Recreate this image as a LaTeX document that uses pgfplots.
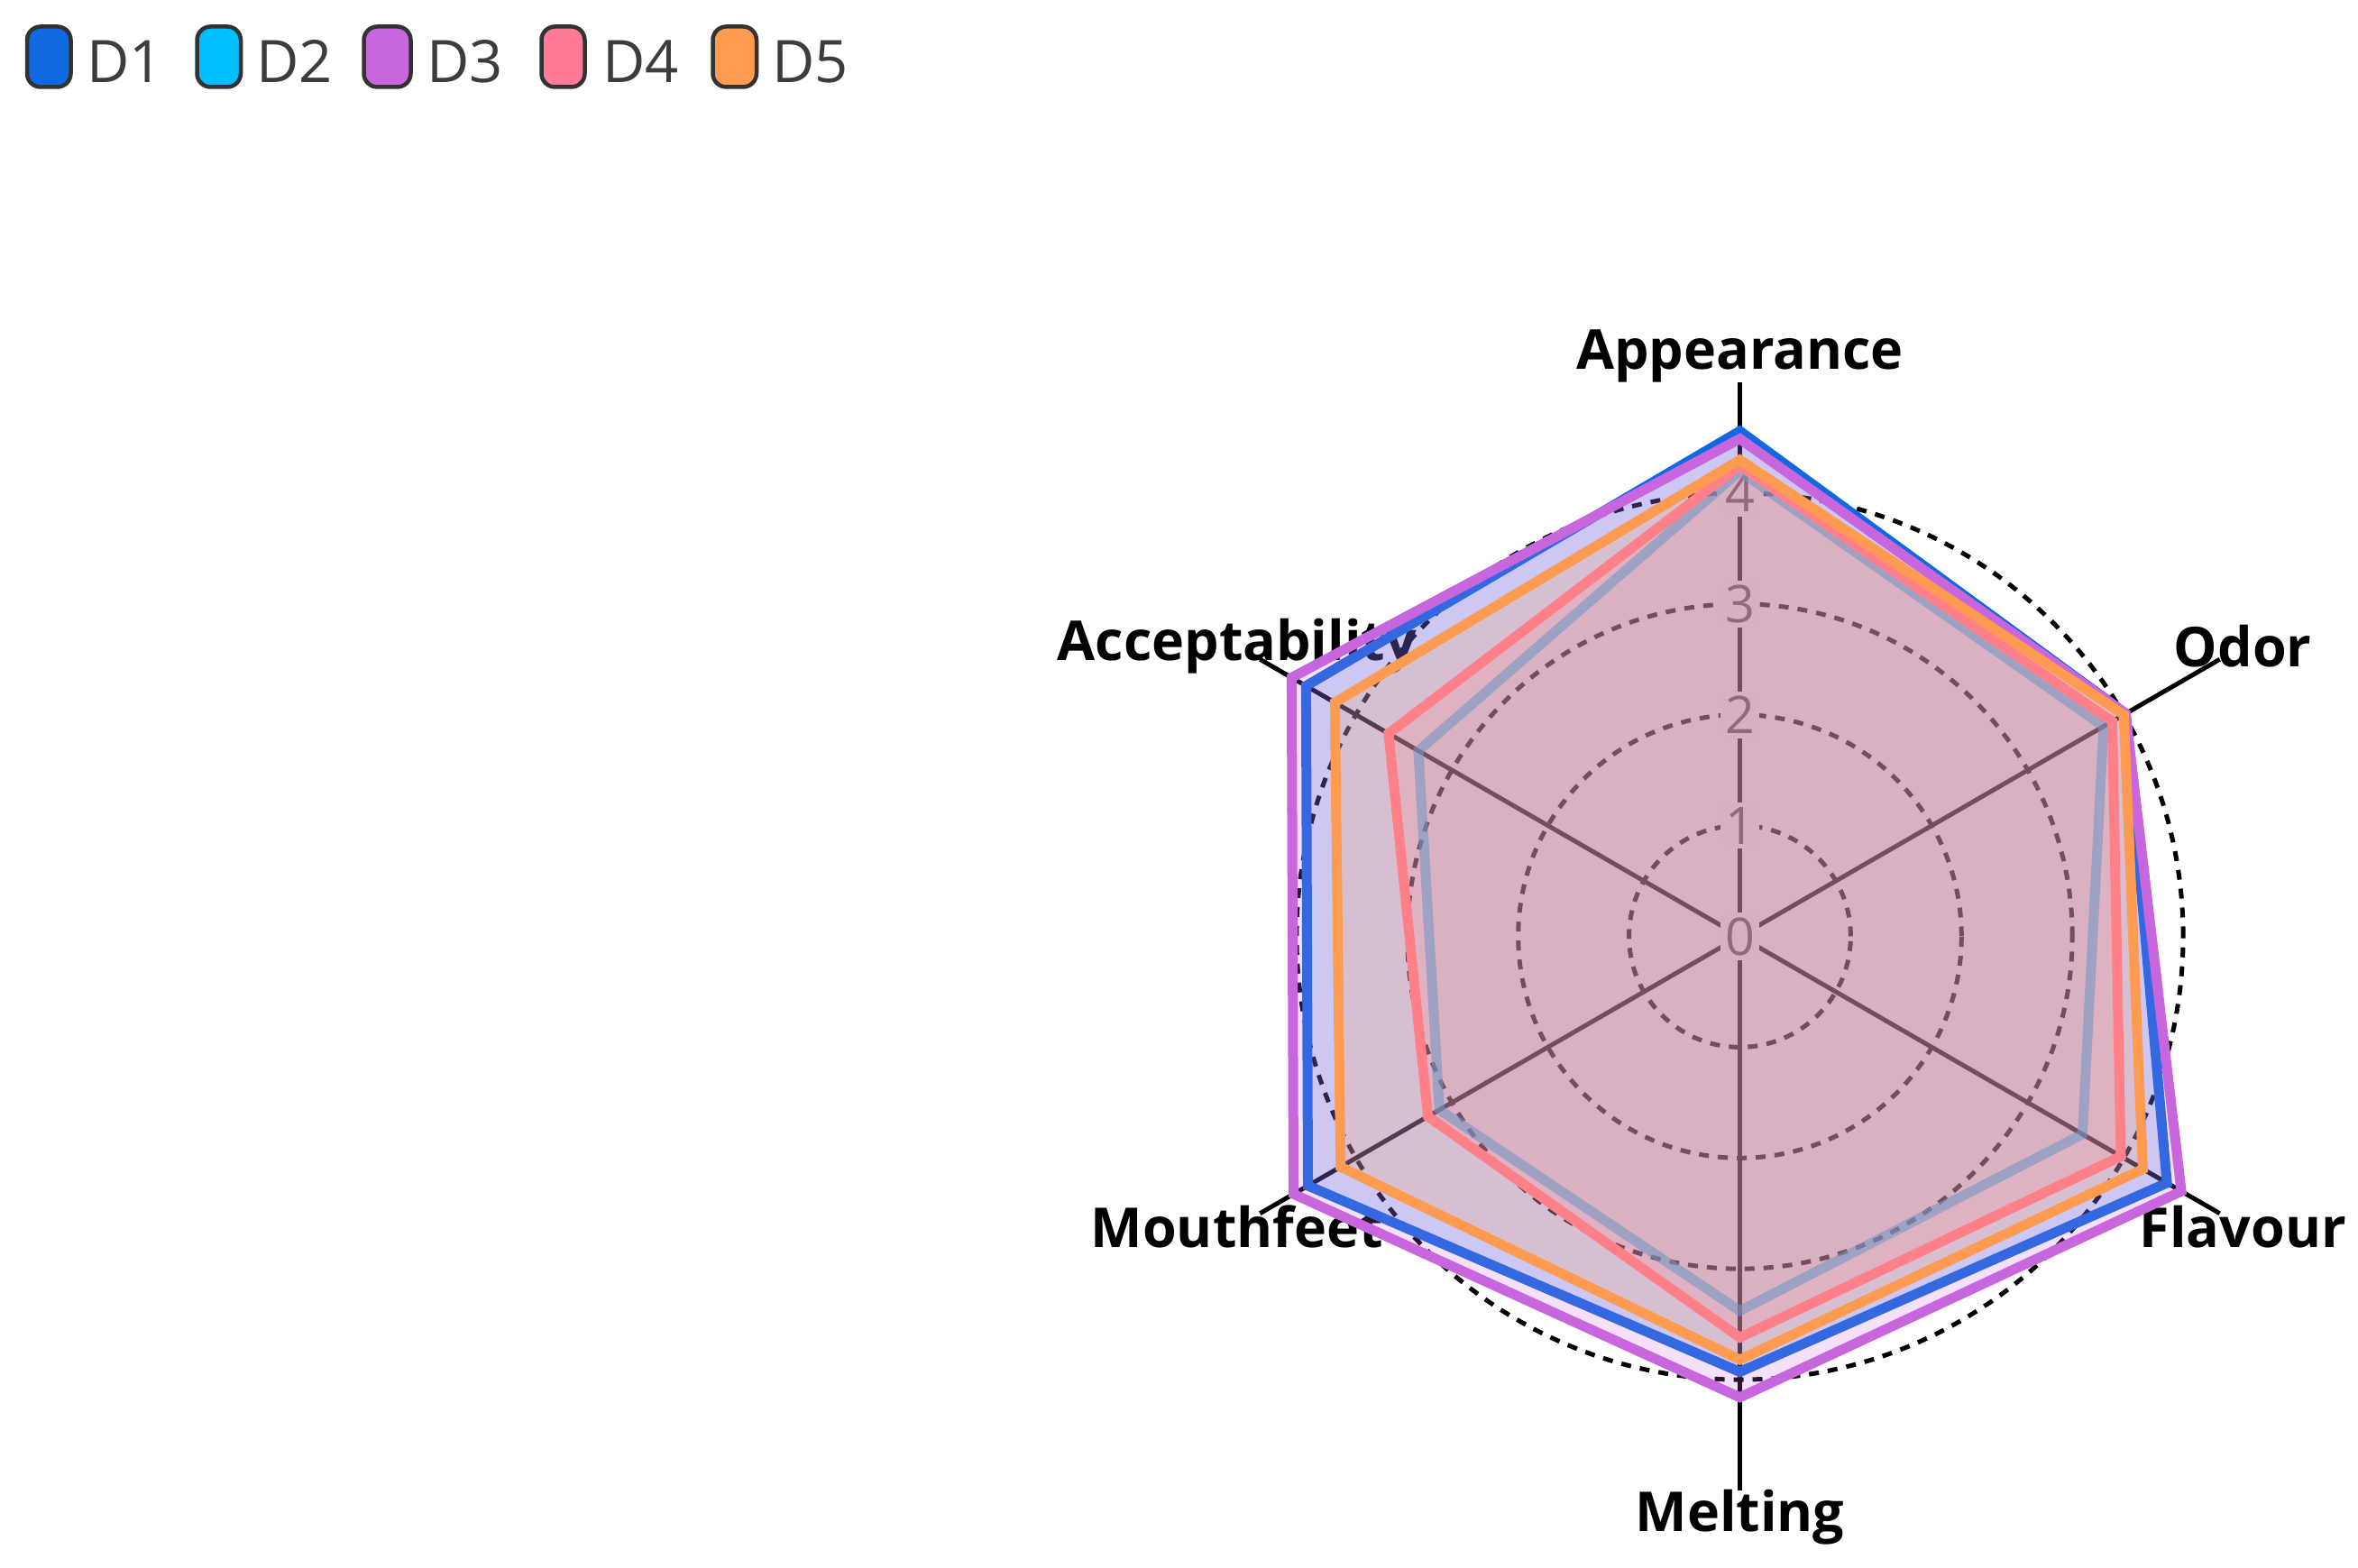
\documentclass[border=0pt]{standalone}
\usepackage{fontspec}
\setmainfont{Open Sans}
\usepackage{pgfplots}
\pgfplotsset{compat=1.18}
\usepgfplotslibrary{polar}
\usepackage{pgfplotstable}

\definecolor{cD1}{RGB}{15,105,225}
\definecolor{cD2}{RGB}{0,190,255}
\definecolor{cD3}{RGB}{200,102,222}
\definecolor{cD4}{RGB}{255,122,150}
\definecolor{cD5}{RGB}{255,155,80}
\definecolor{legbord}{RGB}{50,50,50}
\definecolor{legtext}{RGB}{60,60,60}

% angle (deg) and score; first two rows repeated at the end to close the polygon
\pgfplotstableread{
ang   D1   D2   D3   D4   D5
90    4.56 4.20 4.49 4.25 4.30
30    4.02 3.79 4.02 3.88 4.00
-30   4.45 3.57 4.60 3.97 4.20
-90   3.93 3.38 4.16 3.62 3.82
-150  4.50 3.13 4.65 3.25 4.16
-210  4.52 3.35 4.67 3.66 4.22
-270  4.56 4.20 4.49 4.25 4.30
-330  4.02 3.79 4.02 3.88 4.00
}\radar

\tikzset{
  ring/.style={black, line width=1pt, dash pattern=on 2.2pt off 2pt},
  spoke/.style={black, line width=1pt},
  rlab/.style={fill=white, inner sep=1pt, text=black!70, font=\fontsize{11.5}{12}\selectfont},
  clab/.style={font=\bfseries\fontsize{12.2}{14}\selectfont, text=black},
  series/.style={draw=#1, fill=#1, fill opacity=0.2, line width=2.2pt, line join=miter},
  legbox/.style={draw=legbord, line width=0.9pt, rounded corners=3pt, fill=#1},
  legtxt/.style={anchor=base west, text=legtext, font=\fontsize{13}{14}\selectfont, inner sep=0pt},
}

\begin{document}
\begin{tikzpicture}
\useasboundingbox (0,0) rectangle (523pt,347.8pt);

% legend
\draw[legbox=cD1] (6.0pt,328.5pt) rectangle (15.7pt,341.9pt);
\node[legtxt] at (19.0pt,329.5pt) {D1};
\draw[legbox=cD2] (43.7pt,328.5pt) rectangle (53.4pt,341.9pt);
\node[legtxt] at (56.7pt,329.5pt) {D2};
\draw[legbox=cD3] (80.7pt,328.5pt) rectangle (91.1pt,341.9pt);
\node[legtxt] at (94.4pt,329.5pt) {D3};
\draw[legbox=cD4] (120.1pt,328.5pt) rectangle (129.7pt,341.9pt);
\node[legtxt] at (133.4pt,329.5pt) {D4};
\draw[legbox=cD5] (158.1pt,328.5pt) rectangle (167.8pt,341.9pt);
\node[legtxt] at (171.1pt,329.5pt) {D5};

\begin{polaraxis}[
  scale only axis, width=245.8pt, height=245.8pt,
  at={(385.9pt,140.1pt)}, anchor=center,
  hide axis, clip=false,
  xmin=0, xmax=360, ymin=0, ymax=5,
]
% grid
\draw[spoke] (axis cs:0,0) -- (axis cs:90,5);
\draw[spoke] (axis cs:0,0) -- (axis cs:30,5);
\draw[spoke] (axis cs:0,0) -- (axis cs:-30,5);
\draw[spoke] (axis cs:0,0) -- (axis cs:-90,5);
\draw[spoke] (axis cs:0,0) -- (axis cs:-150,5);
\draw[spoke] (axis cs:0,0) -- (axis cs:150,5);
\draw[ring] (axis cs:0,0) circle[radius=24.58pt];
\draw[ring] (axis cs:0,0) circle[radius=49.16pt];
\draw[ring] (axis cs:0,0) circle[radius=73.74pt];
\draw[ring] (axis cs:0,0) circle[radius=98.32pt];
\node[rlab] at (axis cs:0,0) {0};
\node[rlab] at (axis cs:90,1) {1};
\node[rlab] at (axis cs:90,2) {2};
\node[rlab] at (axis cs:90,3) {3};
\node[rlab] at (axis cs:90,4) {4};
% category labels
\node[clab] at (axis cs:90,5.24) {Appearance};
\node[clab] at (axis cs:30,5.24) {Odor};
\node[clab] at (axis cs:-30,5.24) {Flavour};
\node[clab] at (axis cs:-90,5.24) {Melting};
\node[clab] at (axis cs:-150,5.24) {Mouthfeet};
\node[clab] at (axis cs:150,5.24) {Acceptability};

% series
\addplot[series=cD2, fill opacity=0.05, draw opacity=0.6] table[x=ang, y=D2] {\radar};
\addplot[series=cD1] table[x=ang, y=D1] {\radar};
\addplot[series=cD3] table[x=ang, y=D3] {\radar};
\addplot[series=cD4] table[x=ang, y=D4] {\radar};
\addplot[series=cD5] table[x=ang, y=D5] {\radar};
\end{polaraxis}
\end{tikzpicture}
\end{document}
